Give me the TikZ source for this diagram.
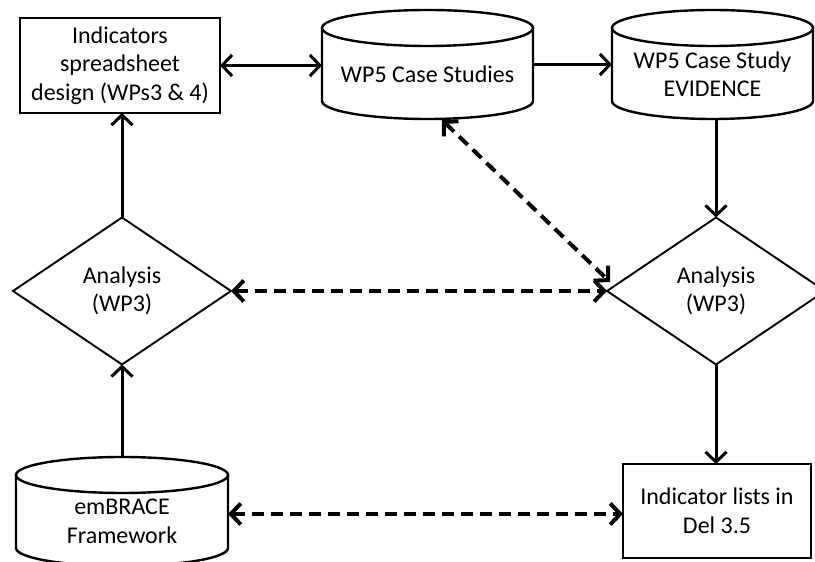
\documentclass[tikz,border=0pt]{standalone}
\usepackage{fontspec}
\setmainfont{Carlito}
\usetikzlibrary{arrows.meta,shapes.geometric,calc}
\tikzset{
  txt/.style={font=\fontsize{24pt}{28.5pt}\selectfont, align=center, inner sep=0pt, outer sep=0pt},
  boxnode/.style={txt, draw, line width=2.6pt, minimum width=#1, minimum height=94pt},
  cylbody/.style={inner sep=0pt, outer sep=0pt, minimum width=#1, minimum height=109pt},
  cylline/.style={line width=2.4pt},
  dia/.style={txt, draw, diamond, line width=1.9pt, minimum width=218pt, minimum height=147pt, aspect=1.48},
  solidarr/.style={line width=3pt, -{Straight Barb[length=10pt,width=21pt]}},
  solidbi/.style={line width=3pt, {Straight Barb[length=10pt,width=21pt]}-{Straight Barb[length=10pt,width=21pt]}},
  dashbi/.style={line width=4pt, dash pattern=on 12pt off 7pt, {Straight Barb[length=10pt,width=21pt]}-{Straight Barb[length=10pt,width=21pt]}}
}
\begin{document}
\begin{tikzpicture}[x=1pt,y=1pt]
\fill[white] (0,0) rectangle (815,562);
\useasboundingbox (0,0) rectangle (815,562);

% nodes
\node[boxnode=200pt, minimum height=95pt] (box1) at (120,496.5) {Indicators\\spreadsheet\\design (WPs3 \& 4)};
\node[cylbody=211pt] (c1) at (427.5,497.5) {};
\node[txt] (c1t) at ([yshift=-10pt]c1.center) {WP5 Case Studies};
\node[cylbody=201pt] (c2) at (712.5,497.5) {};
\node[txt] (c2t) at ([yshift=-10pt]c2.center) {WP5 Case Study\\EVIDENCE};
\node[dia] (d1) at (122,271) {Analysis\\(WP3)};
\node[dia] (d2) at (716,271) {Analysis\\(WP3)};
\node[cylbody=212pt] (c3) at (122,50.5) {};
\node[txt] (c3t) at ([yshift=-10pt]c3.center) {emBRACE\\Framework};
\node[boxnode=188pt] (box2) at (717,51) {Indicator lists in\\Del 3.5};

% cylinder outlines
\foreach \c/\r in {c1/105.5, c2/100.5, c3/106}{
  \draw[cylline] ([yshift=-18pt]\c.north west) -- ([yshift=18pt]\c.south west)
     arc[start angle=180,end angle=360,x radius=\r pt,y radius=18pt]
     -- ([yshift=-18pt]\c.north east);
  \draw[cylline] ([yshift=-18pt]\c.north) ellipse[x radius=\r pt,y radius=18pt];
}

% connectors
\draw[solidbi] (box1.east) -- (box1.east -| c1.west);
\draw[solidarr] (c1.east) -- (c2.west);
\draw[solidarr] (d2.north |- c2.south) -- (d2.north);
\draw[solidarr] (d2.south) -- (d2.south |- box2.north);
\draw[solidarr] (d1.north) -- (d1.north |- box1.south);
\draw[solidarr] (c3.north -| d1.south) -- (d1.south);
\draw[dashbi] (d1.east) -- (d2.west);
\draw[dashbi] ([yshift=-2.5pt]c3.east) -- ([yshift=-2.5pt]c3.east -| box2.west);
\draw[dashbi] ([xshift=14.5pt,yshift=-1pt]c1.south) -- ([xshift=3pt,yshift=9pt]d2.west);
\end{tikzpicture}
\end{document}
